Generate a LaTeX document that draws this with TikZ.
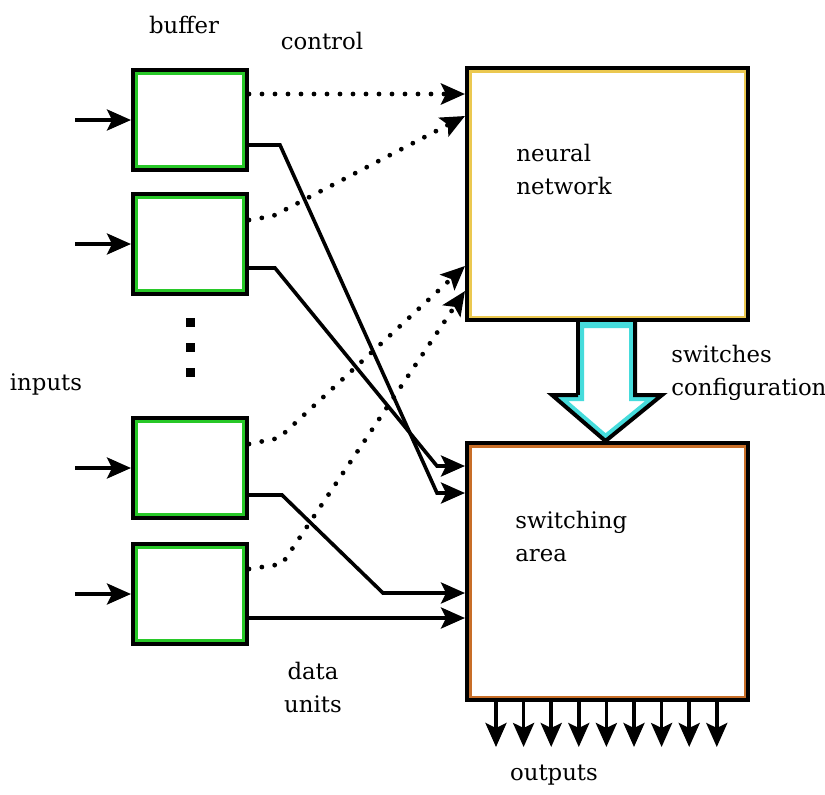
\documentclass[tikz,border=0pt]{standalone}
\usepackage{fontspec}
\setmainfont{DejaVu Serif}
\usetikzlibrary{arrows.meta,calc}
\definecolor{bufgreen}{RGB}{40,200,40}
\definecolor{nnyellow}{RGB}{235,200,80}
\definecolor{swbrown}{RGB}{200,110,40}
\definecolor{arrcyan}{RGB}{70,220,220}
\begin{document}
\begin{tikzpicture}[x=0.5pt,y=-0.5pt,
  lbl/.style={font=\fontsize{11.4}{16.5}\selectfont, inner sep=0pt, align=left},
  buf/.style={draw=black, line width=2pt, fill=white, minimum width=57pt, minimum height=50pt, inner sep=0pt,
    path picture={\draw[bufgreen, line width=5pt] (path picture bounding box.north west) rectangle (path picture bounding box.south east);}},
  bigbox/.style={draw=black, line width=2pt, fill=white, minimum width=140.5pt, inner sep=0pt},
  nnbox/.style={bigbox, minimum height=126pt,
    path picture={\draw[nnyellow, line width=4.5pt] (path picture bounding box.north west) rectangle (path picture bounding box.south east);}},
  swbox/.style={bigbox, minimum height=128.5pt,
    path picture={\draw[swbrown, line width=4.5pt] (path picture bounding box.north west) rectangle (path picture bounding box.south east);}},
  tip/.style={-{Stealth[length=12pt,width=10.5pt,inset=2.5pt]}},
  arr/.style={line width=1.8pt, tip},
  dotarr/.style={line width=2.4pt, line cap=round, dash pattern=on 0pt off 6.5pt, tip},
  solid line/.style={line width=1.8pt, line join=miter},
]
\useasboundingbox (0,0) rectangle (825,794);
\fill[white] (0,0) rectangle (825,794);

% buffers
\node[buf] (b1) at (190,120) {};
\node[buf] (b2) at (190,244) {};
\node[buf] (b3) at (190,468) {};
\node[buf] (b4) at (190,594) {};

% main boxes
\node[nnbox] (nn) at (607.5,194) {};
\node[swbox] (sw) at (607.5,571.5) {};

% labels
\node[lbl] (tbuf) at (184,25) {buffer};
\node[lbl] (tctl) at (322,41) {control};
\node[lbl] (tin) at (46,384) {inputs};
\node[lbl, anchor=west] (tnn) at (516,169) {neural\\network};
\node[lbl, anchor=west] (tsc) at (671,373) {switches\\configuration};
\node[lbl, anchor=west] (tsw) at (515,536) {switching\\area};
\node[lbl, align=center] (tdu) at (313,687) {data\\units};
\node[lbl] (tout) at (554,775) {outputs};

% vertical dots
\foreach \yy/\n in {322/1,347/2,372/3}
  \node[fill=black, minimum size=4.5pt, inner sep=0pt] (dot\n) at (190,\yy) {};

% inputs
\foreach \i in {1,2,3,4} {
  \coordinate (in\i) at ($(b\i.west)+(-56,0)$);
  \draw[arr] (in\i) -- (b\i.west);
}

% control (dotted) connectors
\coordinate (c1) at ($(b1.east)+(0,-26)$);
\draw[dotarr] (c1) -- (c1 -| nn.west);
\draw[dotarr] ($(b2.east)+(0,-24)$) -- ($(b2.east)+(24,-28)$) -- ($(nn.north west)+(0,50)$);
\draw[dotarr] ($(b3.east)+(0,-24)$) -- ($(b3.east)+(30,-30)$) -- ($(nn.north west)+(0,200)$);
\draw[dotarr] ($(b4.east)+(0,-25)$) -- ($(b4.east)+(33,-30)$) -- ($(nn.north west)+(0,225)$);

% data (solid) connectors
\draw[arr, solid line] ($(b1.east)+(0,25)$) -- ++(31,0) -- ($(sw.north west)+(-28,52)$) -- ($(sw.north west)+(0,52)$);
\draw[arr, solid line] ($(b2.east)+(0,24)$) -- ++(26,0) -- ($(sw.north west)+(-28,25)$) -- ($(sw.north west)+(0,25)$);
\draw[arr, solid line] ($(b3.east)+(0,27)$) -- ++(33,0) -- ($(sw.north west)+(-82,152)$) -- ($(sw.north west)+(0,152)$);
\coordinate (d4) at ($(b4.east)+(0,24)$);
\draw[arr, solid line] (d4) -- (d4 -| sw.west);

% big arrow from neural network to switching area
\coordinate (ba1) at ($(nn.south)+(-29.5,0)$);
\coordinate (ba2) at ($(nn.south)+(27.5,0)$);
\coordinate (ba3) at ($(nn.south)+(27.5,73)$);
\coordinate (ba4) at ($(nn.south)+(54.5,73)$);
\coordinate (ba5) at ($(sw.north)+(-2,0)$);
\coordinate (ba6) at ($(nn.south)+(-55.5,73)$);
\coordinate (ba7) at ($(nn.south)+(-29.5,73)$);
\fill[white] (ba1) -- (ba2) -- (ba3) -- (ba4) -- (ba5) -- (ba6) -- (ba7) -- cycle;
\begin{scope}
  \clip (ba1) -- (ba2) -- (ba3) -- (ba4) -- (ba5) -- (ba6) -- (ba7) -- cycle;
  \draw[arrcyan, line width=6pt, line join=miter] (ba1) -- (ba2) -- (ba3) -- (ba4) -- (ba5) -- (ba6) -- (ba7) -- cycle;
\end{scope}
\draw[black, line width=2pt, line join=miter] (ba7) -- (ba6) -- (ba5) -- (ba4) -- (ba3) -- (ba2);
\draw[black, line width=2pt] (ba1) -- (ba7);

% outputs
\foreach \i in {0,...,8} {
  \coordinate (os\i) at ($(sw.south west)+(31+27.6*\i,0)$);
  \coordinate (oe\i) at ($(os\i)+(0,45)$);
  \draw[arr] (os\i) -- (oe\i);
}
\end{tikzpicture}
\end{document}
